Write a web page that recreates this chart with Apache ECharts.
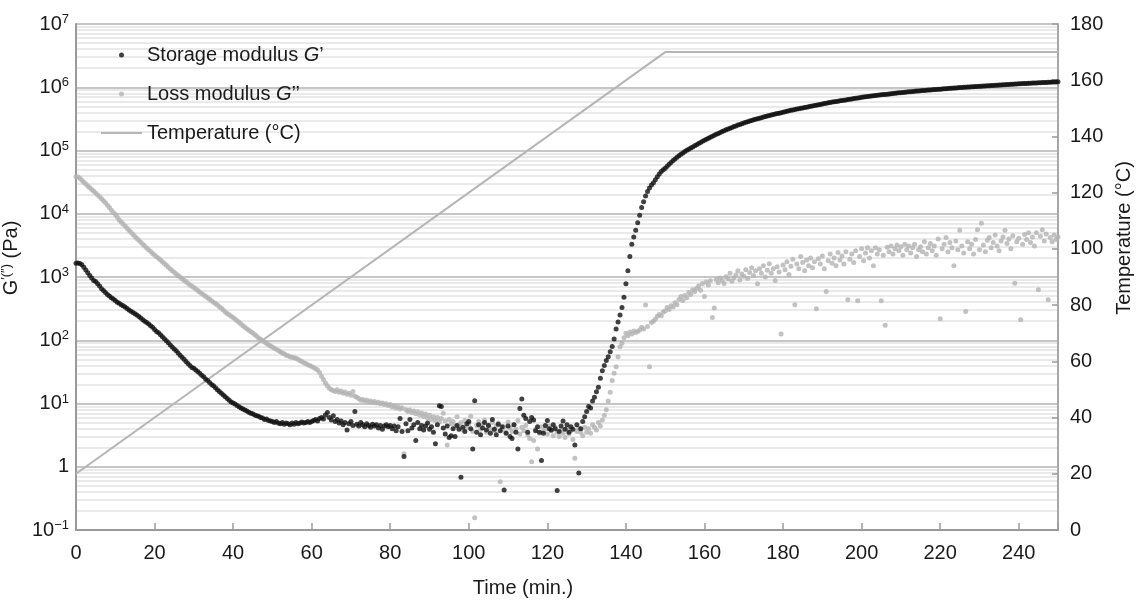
<!DOCTYPE html>
<html><head><meta charset="utf-8">
<script src="https://cdn.jsdelivr.net/npm/echarts@6/dist/echarts.min.js"></script>
<style>html,body{margin:0;padding:0;background:#fff}#c{width:1137px;height:600px}</style>
</head><body><div id="c"></div>
<script>
// ---------- DATA ----------
const times = [
0,0.5,1,1.5,2,2.5,3,3.5,4,4.5,5,5.5,6,6.5,7,7.5,8,8.5,9,9.5,
10,10.5,11,11.5,12,12.5,13,13.5,14,14.5,15,15.5,16,16.5,17,17.5,18,18.5,19,19.5,
20,20.5,21,21.5,22,22.5,23,23.5,24,24.5,25,25.5,26,26.5,27,27.5,28,28.5,29,29.5,
30,30.5,31,31.5,32,32.5,33,33.5,34,34.5,35,35.5,36,36.5,37,37.5,38,38.5,39,39.5,
40,40.5,41,41.5,42,42.5,43,43.5,44,44.5,45,45.5,46,46.5,47,47.5,48,48.5,49,49.5,
50,50.5,51,51.5,52,52.5,53,53.5,54,54.5,55,55.5,56,56.5,57,57.5,58,58.5,59,59.5,
60,60.5,61,61.5,62,62.5,63,63.5,64,64.5,65,65.5,66,66.5,67,67.5,68,68.5,69,69.5,
70,70.5,71,71.5,72,72.5,73,73.5,74,74.5,75,75.5,76,76.5,77,77.5,78,78.5,79,79.5,
80,80.5,81,81.5,82,82.5,83,83.5,84,84.5,85,85.5,86,86.5,87,87.5,88,88.5,89,89.5,
90,90.5,91,91.5,92,92.5,93,93.5,94,94.5,95,95.5,96,96.5,97,97.5,98,98.5,99,99.5,
100,100.5,101,101.5,102,102.5,103,103.5,104,104.5,105,105.5,106,106.5,107,107.5,108,108.5,109,109.5,
110,110.5,111,111.5,112,112.5,113,113.5,114,114.5,115,115.5,116,116.5,117,117.5,118,118.5,119,119.5,
120,120.5,121,121.5,122,122.5,123,123.5,124,124.5,125,125.5,126,126.5,127,127.5,128,128.5,129,129.5,
130,130.5,131,131.5,132,132.5,133,133.5,134,134.5,135,135.5,136,136.5,137,137.5,138,138.5,139,139.5,
140,140.5,141,141.5,142,142.5,143,143.5,144,144.5,145,145.5,146,146.5,147,147.5,148,148.5,149,149.5,
150,150.5,151,151.5,152,152.5,153,153.5,154,154.5,155,155.5,156,156.5,157,157.5,158,158.5,159,159.5,
160,160.5,161,161.5,162,162.5,163,163.5,164,164.5,165,165.5,166,166.5,167,167.5,168,168.5,169,169.5,
170,170.5,171,171.5,172,172.5,173,173.5,174,174.5,175,175.5,176,176.5,177,177.5,178,178.5,179,179.5,
180,180.5,181,181.5,182,182.5,183,183.5,184,184.5,185,185.5,186,186.5,187,187.5,188,188.5,189,189.5,
190,190.5,191,191.5,192,192.5,193,193.5,194,194.5,195,195.5,196,196.5,197,197.5,198,198.5,199,199.5,
200,200.5,201,201.5,202,202.5,203,203.5,204,204.5,205,205.5,206,206.5,207,207.5,208,208.5,209,209.5,
210,210.5,211,211.5,212,212.5,213,213.5,214,214.5,215,215.5,216,216.5,217,217.5,218,218.5,219,219.5,
220,220.5,221,221.5,222,222.5,223,223.5,224,224.5,225,225.5,226,226.5,227,227.5,228,228.5,229,229.5,
230,230.5,231,231.5,232,232.5,233,233.5,234,234.5,235,235.5,236,236.5,237,237.5,238,238.5,239,239.5,
240,240.5,241,241.5,242,242.5,243,243.5,244,244.5,245,245.5,246,246.5,247,247.5,248,248.5,249,249.5,
250];

const storageModulus = [
1650,1660,1640,1560,1420,1290,1170,1060,960,880,
850,780,720,650,610,570,530,500,470,450,
425,400,385,365,350,335,318,300,288,275,
262,250,238,225,210,200,190,180,170,160,
148,138,131,122,114,106,98,91,84,78,
73,68,63,58,54,50,46,43,40,37,
36,34,32,30,28,26.5,24.5,23,21.5,20,
19,17.8,16.5,15.5,14.5,13.6,12.8,12,11.3,10.6,
10.2,9.8,9.3,8.9,8.5,8.2,7.9,7.6,7.3,7.0,
6.9,6.6,6.4,6.3,6.0,5.9,5.6,5.7,5.4,5.3,
5.2,5.0,5.2,4.9,4.8,5.0,4.7,4.9,4.8,4.6,
4.9,4.7,5.0,4.8,4.9,5.1,4.9,5.0,5.2,5.0,
5.2,5.4,5.6,5.3,5.8,6.0,5.7,6.6,7.2,6.0,
5.5,6.4,5.2,5.6,4.9,5.3,4.6,5.0,3.8,4.8,
5.2,4.5,7.5,4.7,4.4,5.0,4.6,4.3,4.8,4.5,
4.2,4.7,4.4,4.6,4.1,4.5,3.9,4.4,4.6,4.3,
4.5,4.0,4.4,3.7,4.3,5.8,3.6,1.45,4.8,3.7,
5.6,4.1,4.6,2.6,5.0,4.0,4.5,3.8,4.4,4.9,
3.9,4.3,3.5,2.3,4.6,9.2,9.0,4.1,3.3,4.4,
2.9,3.1,4.0,3.0,4.5,3.9,0.68,4.2,3.6,4.8,
5.2,4.0,1.9,11.1,3.5,4.6,3.2,4.1,5.0,3.8,
4.5,3.4,5.6,3.9,3.2,4.7,3.7,4.3,0.43,3.4,
4.4,3.0,2.8,4.6,3.5,1.9,8.3,11.8,6.5,5.8,
3.5,5.2,6.0,5.5,3.7,4.3,3.5,1.26,3.4,4.5,
5.4,4.0,3.8,4.6,4.0,0.42,3.6,4.4,5.3,3.9,
4.6,3.5,4.3,3.9,2.2,4.6,0.8,4.0,5.2,6.2,
7.5,9,8.5,11,12.5,15.4,18,25,33,40,
48,55,66,80,105,150,195,250,330,480,
780,1250,2100,3300,4300,5500,7200,9500,12500,15500,
19000,22500,25500,28500,31000,34500,38500,42500,46500,49500,
52500,56500,60500,64800,69200,73500,78000,82500,87100,91500,
96000,100500,105000,109500,114000,118500,123000,128500,134000,139500,
145000,150500,156000,162000,168000,174000,180000,186500,193000,199500,
206000,212500,219000,225500,232000,238500,245000,252000,258500,265000,
272000,279000,285500,292000,299000,305000,311500,318000,324000,330500,
337500,344000,351000,357000,363500,370000,376000,383000,389500,396000,
403000,410000,417500,424500,432000,438000,444500,451000,457000,464000,
470500,477000,484000,491000,498500,505500,513000,520500,528000,535500,
543000,551000,559000,567000,575000,582000,589000,596000,603000,610000,
617000,624000,631000,638500,646000,653500,661000,668500,676500,684000,
692000,698500,705000,711500,718000,725000,731500,738500,745000,752000,
759000,765000,771500,778000,784000,790500,797000,803000,809500,816000,
822000,828000,834000,840000,846000,851500,857500,863500,869500,875500,
881000,886000,891500,896500,902000,907000,912500,917500,923000,928000,
933000,938500,944000,949500,955000,960500,966500,972000,977500,983500,
989000,993500,998000,1003000,1007500,1012000,1016500,1021000,1026000,1030500,
1035000,1040000,1045000,1050000,1054500,1059500,1064500,1069500,1074500,1079000,
1084000,1089000,1094000,1099000,1104000,1109500,1114500,1119500,1125000,1130000,
1135000,1139000,1143000,1147000,1151000,1155000,1159000,1163000,1167000,1171000,
1175000,1180000,1184000,1189000,1193000,1198000,1202500,1207000,1211500,1216000,
1225000];

const lossModulus = [
38500,38000,36500,34000,31500,29500,27500,25800,24200,22600,
21200,19800,18500,17200,16000,14900,13600,12500,11500,10500,
9700,8800,8000,7400,6900,6400,5900,5500,5100,4700,
4380,4080,3800,3550,3300,3100,2880,2700,2520,2350,
2220,2090,1980,1860,1740,1630,1530,1430,1340,1260,
1190,1120,1060,1000,940,890,840,795,750,715,
680,645,610,580,550,520,495,470,445,422,
400,380,360,340,322,300,280,266,252,240,
228,216,204,192,180,170,161,152,144,136,
130,123,116,109,104,99,94,89,85,81,
78,75,72,69,66,63,61,58,57,55,
54,53,52,50,48,46,44,43,41,40,
38.5,37,35.5,34,31,27,24,21,19,17.5,
16.5,16,15.5,16.5,15,15.8,14.5,15.2,14,14.5,
13.5,15.5,13,12.5,12,11.3,11.6,11,11.4,10.6,
11,10.4,10.8,10.2,10.5,9.9,10.2,9.6,9.9,9.3,
9.6,8.8,9.2,8.5,8.9,8.2,8.6,1.6,8.0,7.5,
7.9,7.2,7.6,6.9,7.4,6.5,7.1,6.2,6.8,5.9,
6.5,5.6,6.2,5.4,6.0,5.1,5.8,7.0,5.3,2.2,
5.6,4.8,5.2,4.4,6.2,4.6,5.0,3.8,5.4,4.2,
4.8,6.3,3.6,0.156,4.5,5.2,3.9,4.7,5.5,3.5,
4.6,4.0,5.0,3.7,4.4,4.9,0.58,3.8,4.3,3.5,
5.1,4.1,3.6,4.6,3.9,5.4,3.3,4.2,3.7,4.5,
3.2,2.8,1.2,2.6,3.9,1.9,3.4,4.3,3.6,4.0,
3.3,4.4,3.7,3.1,4.2,3.5,3.0,3.8,3.4,2.9,
4.0,3.3,3.7,2.7,1.36,3.6,4.1,3.5,3.1,4.2,
3.5,4.0,3.4,4.6,4.2,3.8,5.0,4.4,5.5,6.5,
8,11,15,23,30,38,55,79,90,110,
129,118,135,125,140,132,138,145,160,150,
360,165,38,190,200,215,240,255,245,280,
290,330,305,350,335,390,365,440,490,425,
510,470,570,530,630,590,660,720,620,790,
490,830,750,870,228,324,910,810,960,880,
790,1010,930,1150,860,970,1080,1250,900,1120,
1030,1300,950,1180,1400,1060,1250,780,1350,1150,
1500,1000,1280,1620,1150,1350,880,1450,1200,126,
1550,1300,1750,1100,1480,1900,365,1600,1350,2100,
1700,1250,1850,1500,2000,1400,1750,316,1950,1600,
2150,1350,590,1800,2300,1650,2000,1500,2450,1850,
2150,1600,2500,436,1900,2300,1700,2600,420,2100,
2800,1800,2400,2900,2000,2600,1500,2900,2300,2700,
420,2200,173,2950,2500,3100,2300,2800,3200,2600,
3000,2200,3300,2700,3100,2400,2900,3300,2100,2700,
3000,2500,3600,2300,2900,3400,2600,3100,2200,4000,
218,2800,3300,4200,2500,3500,2900,1500,3700,2700,
5500,3100,2400,284,3600,2800,3300,2300,3900,5600,
2700,7100,3200,2500,3800,4200,2900,3500,4600,3100,
2600,3700,4300,5500,3400,4000,2800,4500,795,3600,
4100,210,3300,4700,3900,5000,3500,4300,3100,5000,
630,4400,5600,3700,4800,436,4200,3600,4600,3900,
4300];

const tempTimes = [0, 150, 250];
const tempValues = [20, 170, 170];

const seriesNames = ['Storage modulus G\u2032', 'Loss modulus G\u2033', 'Temperature (\u00b0C)'];
const xAxisTitle = 'Time (min.)';
const tempAxisTitle = 'Temperature (\u00b0C)';
const decadeFactors = [2, 3, 4, 5, 6, 7, 8, 9];
const decades = [0.1, 1, 10, 100, 1000, 10000, 100000, 1000000];

// ---------- BUILD ----------
const FONT = "'Liberation Sans', Arial, Helvetica, sans-serif";
const TXT = '#1a1a1a';
const storagePts = times.map((t, i) => [t, storageModulus[i]]);
const lossPts = times.map((t, i) => [t, lossModulus[i]]);
const tempPts = tempTimes.map((t, i) => [t, tempValues[i]]);
const minorLines = [];
decades.forEach(d => decadeFactors.forEach(f => minorLines.push({ yAxis: d * f })));

const supRich = {
  b: { fontSize: 20, fontFamily: FONT, color: TXT },
  s: { fontSize: 13, fontFamily: FONT, color: TXT, padding: [0, 0, 9, 0] }
};

const chart = echarts.init(document.getElementById('c'), null, { renderer: 'canvas' });
chart.setOption({
  animation: false,
  backgroundColor: '#ffffff',
  textStyle: { fontFamily: FONT },
  grid: { left: 76, right: 79, top: 24, bottom: 70, containLabel: false, outerBoundsMode: 'none' },
  legend: {
    data: [
      { name: seriesNames[0], icon: 'circle' },
      { name: seriesNames[1], icon: 'circle' },
      { name: seriesNames[2], icon: 'path://M0,0 L40,0 L40,2 L0,2 Z' }
    ],
    orient: 'vertical',
    left: 96, top: 40,
    itemWidth: 41, itemHeight: 5, itemGap: 19,
    selectedMode: false,
    textStyle: {
      fontSize: 20, color: TXT, fontFamily: FONT,
      rich: {
        n: { fontSize: 20, color: TXT, fontFamily: FONT },
        i: { fontSize: 20, color: TXT, fontFamily: FONT, fontStyle: 'italic' }
      }
    },
    formatter: function (name) {
      if (name === seriesNames[0]) return '{n|Storage modulus }{i|G}{n|\u2019}';
      if (name === seriesNames[1]) return '{n|Loss modulus }{i|G}{n|\u2019\u2019}';
      return '{n|' + name + '}';
    }
  },
  xAxis: {
    type: 'value', min: 0, max: 250, interval: 20,
    name: xAxisTitle, nameLocation: 'middle', nameGap: 48,
    nameTextStyle: { fontSize: 20, color: TXT, fontFamily: FONT, padding: [0, 88, 0, 0] },
    axisLine: { show: true, lineStyle: { color: '#9a9a9a', width: 2 } },
    axisTick: { show: true, inside: true, length: 7, lineStyle: { color: '#9a9a9a', width: 1.5 } },
    axisLabel: { fontSize: 20, color: TXT, fontFamily: FONT, margin: 13,
      formatter: v => (v % 20 === 0 ? String(v) : '') },
    splitLine: { show: false }
  },
  yAxis: [
    {
      type: 'log', logBase: 10, min: 0.1, max: 1e7, splitNumber: 8,
      name: '{i|G}{s|\u2032(\u2033)}{n| (Pa)}',
      nameLocation: 'middle', nameGap: 46,
      nameTextStyle: {
        fontSize: 20, color: TXT, fontFamily: FONT, padding: [0, 0, 0, 38],
        rich: {
          i: { fontSize: 20, color: TXT, fontFamily: FONT },
          s: { fontSize: 13, color: TXT, fontFamily: FONT, padding: [0, 0, 9, 0] },
          n: { fontSize: 20, color: TXT, fontFamily: FONT }
        }
      },
      axisLine: { show: true, lineStyle: { color: '#9a9a9a', width: 2 } },
      axisTick: { show: false },
      axisLabel: {
        margin: 7, color: TXT, fontFamily: FONT, rich: supRich,
        formatter: function (v) {
          const e = Math.round(Math.log10(v));
          if (e === 0) return '{b|1}';
          return '{b|10}{s|' + (e < 0 ? '\u2212' + (-e) : e) + '}';
        }
      },
      splitLine: { show: true, lineStyle: { color: '#c6c6c6', width: 2 } }
    },
    {
      type: 'value', min: 0, max: 180, interval: 20, position: 'right',
      name: tempAxisTitle, nameLocation: 'middle', nameGap: 52,
      nameTextStyle: { fontSize: 20, color: TXT, fontFamily: FONT, padding: [0, 0, 0, 78] },
      axisLine: { show: true, lineStyle: { color: '#a8a8a8', width: 2 } },
      axisTick: { show: true, inside: true, length: 6, lineStyle: { color: '#9a9a9a', width: 1.5 } },
      axisLabel: { fontSize: 20, color: TXT, fontFamily: FONT, margin: 12 },
      splitLine: { show: false }
    }
  ],
  series: [
    {
      name: 'minor-grid', type: 'line', data: [], yAxisIndex: 0, z: 0, silent: true,
      markLine: {
        silent: true, z: 0, symbol: ['none', 'none'], animation: false,
        label: { show: false },
        emphasis: { disabled: true },
        lineStyle: { color: '#e3e3e3', width: 1.5, type: 'solid' },
        data: minorLines
      }
    },
    {
      name: seriesNames[2], type: 'line', yAxisIndex: 1, data: tempPts,
      showSymbol: false, symbol: 'none', z: 2,
      lineStyle: { color: '#b5b5b5', width: 2 }, itemStyle: { color: '#b5b5b5' }
    },
    {
      name: seriesNames[1], type: 'scatter', yAxisIndex: 0, data: lossPts,
      symbol: 'circle', symbolSize: 5, z: 3,
      itemStyle: { color: '#b3b3b3' }
    },
    {
      name: seriesNames[0], type: 'scatter', yAxisIndex: 0, data: storagePts,
      symbol: 'circle', symbolSize: 5, z: 4,
      itemStyle: { color: '#111111' }
    }
  ]
});
</script>
</body></html>
